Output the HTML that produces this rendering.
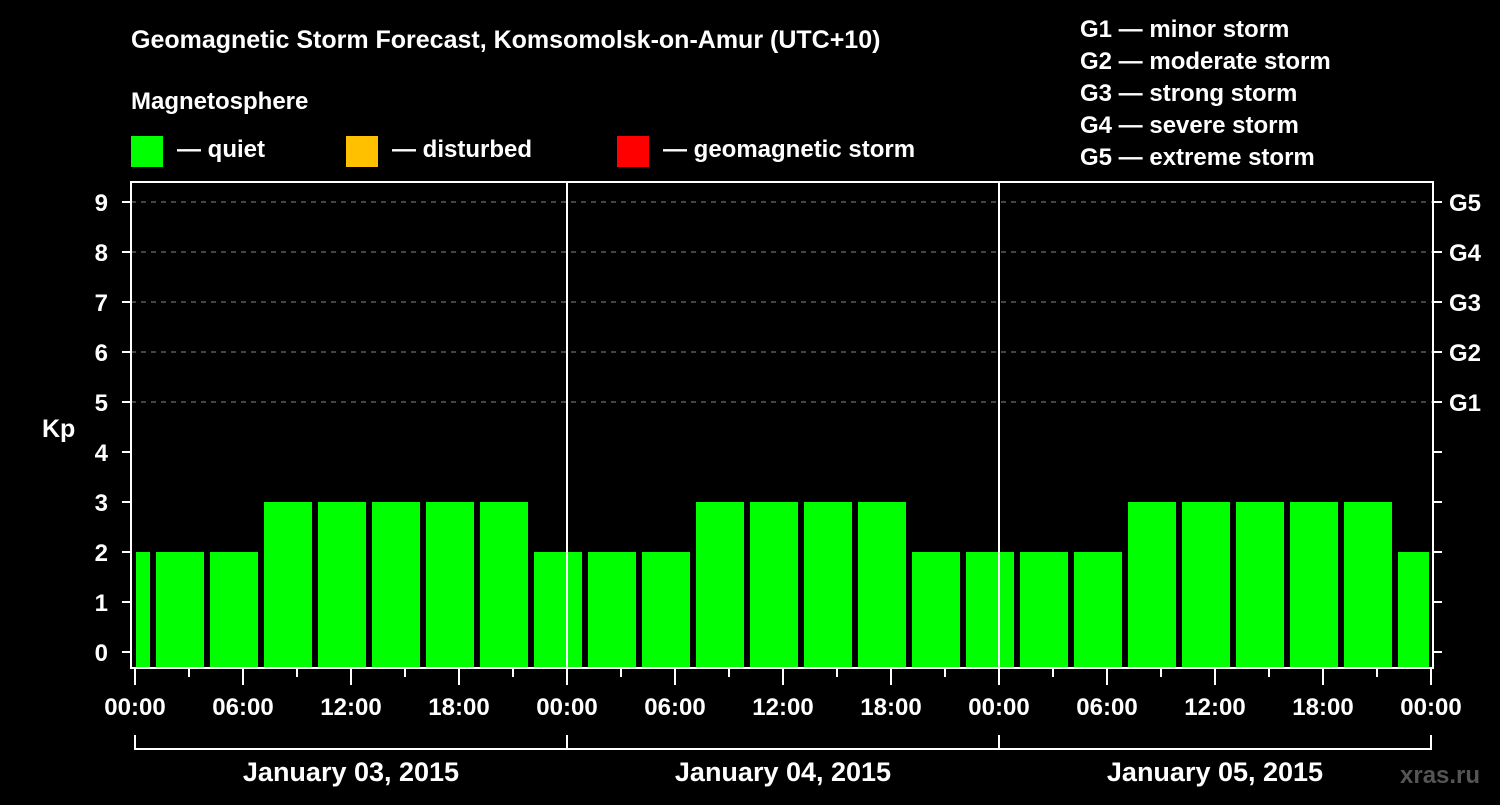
<!DOCTYPE html>
<html><head><meta charset="utf-8"><style>
html,body{margin:0;padding:0;background:#000;}
svg text{font-family:"Liberation Sans",Arial,sans-serif;font-weight:bold;fill:#fff;}
</style></head><body>
<svg id="chart" width="1500" height="800" viewBox="0 0 1500 800">
<rect width="1500" height="800" fill="#000"/>
<text x="131" y="48" font-size="25">Geomagnetic Storm Forecast, Komsomolsk-on-Amur (UTC+10)</text>
<text x="131" y="109" font-size="24">Magnetosphere</text>
<g>
<rect x="131" y="136" width="32" height="31" fill="#00ff00"/>
<text x="177" y="157" font-size="24">— quiet</text>
<rect x="346" y="136" width="32" height="31" fill="#ffc000"/>
<text x="392" y="157" font-size="24">— disturbed</text>
<rect x="617" y="136" width="32" height="31" fill="#ff0000"/>
<text x="663" y="157" font-size="24">— geomagnetic storm</text>
</g>
<g font-size="24">
<text x="1080" y="37">G1 — minor storm</text>
<text x="1080" y="69">G2 — moderate storm</text>
<text x="1080" y="101">G3 — strong storm</text>
<text x="1080" y="133">G4 — severe storm</text>
<text x="1080" y="165">G5 — extreme storm</text>
</g>
<text x="42" y="437" font-size="25">Kp</text>
<text x="1400" y="783" font-size="24" fill="#555" style="fill:#555">xras.ru</text>
<g id="grid"></g>
<g id="bars"></g>
<g id="axes"></g>
</svg>
<script>
const kpValues=[2,2,2,3,3,3,3,3,2,2,2,3,3,3,3,2,2,2,2,3,3,3,3,3,2];
const binStartHours=[-2,1,4,7,10,13,16,19,22,25,28,31,34,37,40,43,46,49,52,55,58,61,64,67,70];
const dayLabels=["January 03, 2015","January 04, 2015","January 05, 2015"];
const yTicks=[0,1,2,3,4,5,6,7,8,9];
const gLabels=["G1","G2","G3","G4","G5"];
const gLevels=[5,6,7,8,9];
const xTickLabels=["00:00","06:00","12:00","18:00","00:00","06:00","12:00","18:00","00:00","06:00","12:00","18:00","00:00"];

const NS="http://www.w3.org/2000/svg";
const X0=135,PXH=18,Y0=652,PXK=50;
const PL=131,PR=1433,PT=182,PB=668;
function x(h){return X0+h*PXH;}
function y(k){return Y0-k*PXK;}
function mk(tag,attrs,parent){const e=document.createElementNS(NS,tag);for(const k in attrs)e.setAttribute(k,attrs[k]);parent.appendChild(e);return e;}
const grid=document.getElementById('grid'),bars=document.getElementById('bars'),axes=document.getElementById('axes');

gLevels.forEach((k,i)=>{
  const l=mk('line',{x1:PL,x2:PR,y1:y(k),y2:y(k),stroke:'#888','stroke-width':1,'stroke-dasharray':'5,5'},grid);
  
  
  const t=mk('text',{x:1449,y:y(k)+9,'font-size':24},axes);
  t.textContent=gLabels[i];
  
  
});

kpValues.forEach((v,i)=>{
  let a=x(binStartHours[i])+3,b=x(binStartHours[i]+3)-3;
  a=Math.max(a,X0+1);b=Math.min(b,x(72)-2);
  const col=v>=5?'#ff0000':(v>=4?'#ffc000':'#00ff00');
  const r=mk('rect',{x:a,y:y(v),width:b-a,height:667-y(v),fill:col},bars);
  
  
});

[1,2].forEach(d=>{
  const l=mk('line',{x1:x(24*d),x2:x(24*d),y1:PT,y2:PB,stroke:'#fff','stroke-width':2},axes);
  
  
});

const fr=mk('rect',{x:PL,y:PT,width:PR-PL,height:PB-PT,fill:'none',stroke:'#fff','stroke-width':2},axes);



yTicks.forEach(k=>{
  mk('line',{x1:122,x2:PL,y1:y(k),y2:y(k),stroke:'#fff','stroke-width':2},axes);
  mk('line',{x1:PR,x2:1442,y1:y(k),y2:y(k),stroke:'#fff','stroke-width':2},axes);
  const t=mk('text',{x:108,y:y(k)+9,'font-size':24,'text-anchor':'end'},axes);
  t.textContent=k;
  
  
});

for(let h=0;h<=72;h+=3){
  const major=h%6===0;
  mk('line',{x1:x(h),x2:x(h),y1:PB,y2:major?685:677,stroke:'#fff','stroke-width':2},axes);
}
xTickLabels.forEach((s,i)=>{
  const t=mk('text',{x:x(i*6),y:715,'font-size':24,'text-anchor':'middle'},axes);
  t.textContent=s;
  
  
});

mk('line',{x1:x(0),x2:x(72),y1:749,y2:749,stroke:'#fff','stroke-width':2},axes);
for(let d=0;d<=3;d++) mk('line',{x1:x(24*d),x2:x(24*d),y1:735,y2:750,stroke:'#fff','stroke-width':2},axes);
dayLabels.forEach((s,i)=>{
  const t=mk('text',{x:x(24*i+12),y:781,'font-size':27,'text-anchor':'middle'},axes);
  t.textContent=s;
  
  
});
</script>
</body></html>
